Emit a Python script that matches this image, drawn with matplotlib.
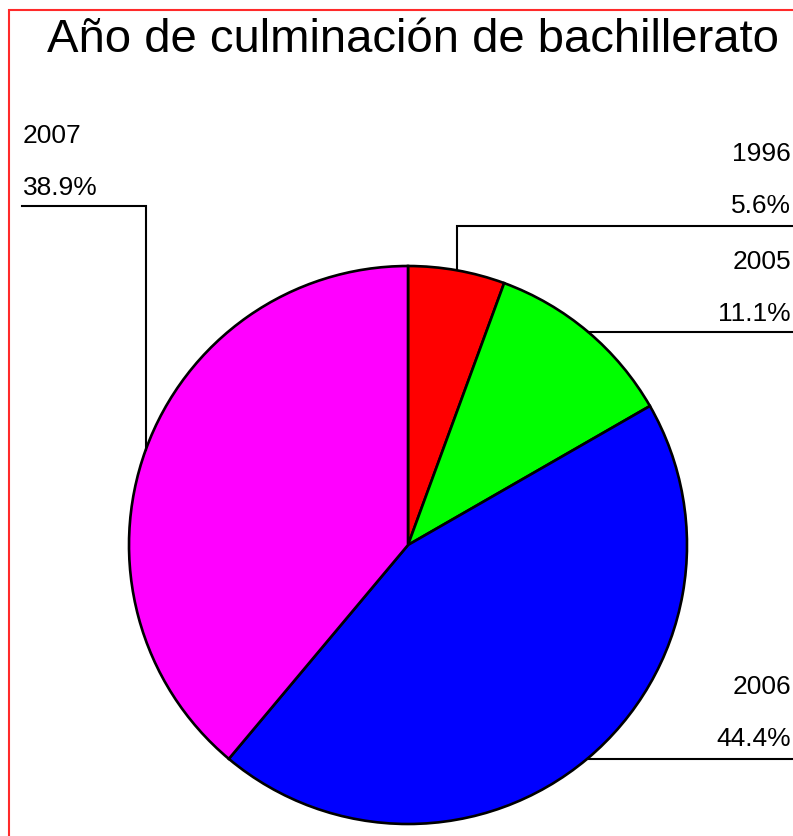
import matplotlib.pyplot as plt
import numpy as np
from matplotlib.patches import Rectangle

plt.rcParams['font.family'] = ['Liberation Sans', 'DejaVu Sans']

# datos
years = ['1996', '2005', '2006', '2007']
percents = [5.6, 11.1, 44.4, 38.9]
colors = ['#ff0000', '#00ff00', '#0000ff', '#ff00ff']
title = 'Año de culminación de bachillerato'

W, H = 793, 837
fig = plt.figure(figsize=(W / 100, H / 100), dpi=100)
ax = fig.add_axes([0, 0, 1, 1])

cx, cy, r = 408, H - 546, 279
wedges, _ = ax.pie(percents, colors=colors, startangle=90, counterclock=False,
                   center=(cx, cy), radius=r, frame=True,
                   wedgeprops=dict(edgecolor='black', linewidth=1.9))
ax.set_xlim(0, W)
ax.set_ylim(0, H)
ax.set_aspect('equal')
ax.axis('off')

# borde rojo
fig.patches.append(Rectangle((9 / W, -0.1), 1.2, (H - 11) / H + 0.1, transform=fig.transFigure,
                             fill=False, edgecolor='#ff2a2a', linewidth=1.5))

ax.text(413, H - 52, title, fontsize=34, ha='center', va='baseline')

# linea de llegada (pixeles desde arriba) para 1996 y 2007
line_y = {'1996': 227, '2007': 207}
lw = 1.5
fs = 19
for w, yr, p in zip(wedges, years, percents):
    ang = np.deg2rad((w.theta1 + w.theta2) / 2)
    px, py = cx + r * np.cos(ang), cy + r * np.sin(ang)
    ly = H - line_y[yr] if yr in line_y else py
    if px > cx:
        ax.plot([px, px, W + 5], [py, ly, ly], color='black', lw=lw, solid_joinstyle='miter')
        tx, ha = 791, 'right'
    else:
        ax.plot([px, px, 22], [py, ly, ly], color='black', lw=lw, solid_joinstyle='miter')
        tx, ha = 23, 'left'
    gap = 14 if yr in ('1996', '2006') else 12
    ax.text(tx, ly + gap, f'{p}%', fontsize=fs, ha=ha, va='baseline')
    ax.text(tx, ly + gap + 52, yr, fontsize=fs, ha=ha, va='baseline')

fig.savefig('out.png', dpi=100)
